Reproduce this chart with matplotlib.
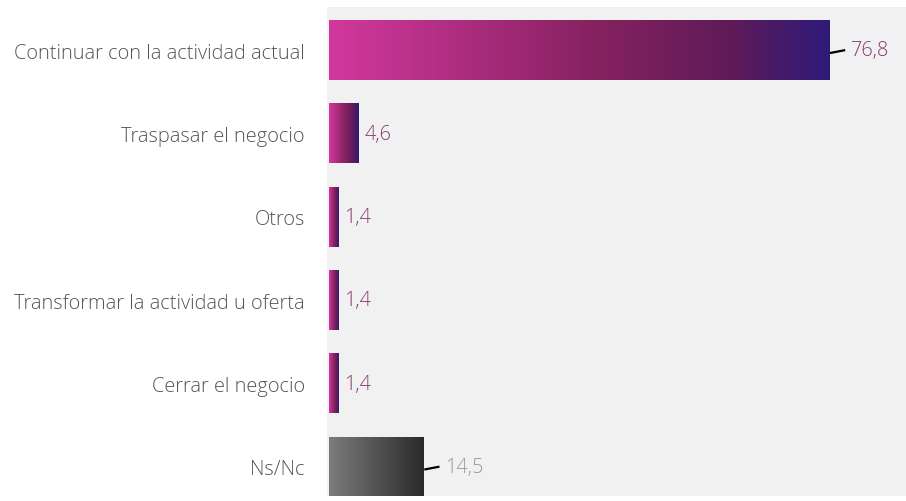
import numpy as np
import matplotlib
matplotlib.use("Agg")
import matplotlib.pyplot as plt
from matplotlib.colors import LinearSegmentedColormap

categories = ["Continuar con la actividad actual", "Traspasar el negocio", "Otros",
              "Transformar la actividad u oferta", "Cerrar el negocio", "Ns/Nc"]
values = [76.8, 4.6, 1.4, 1.4, 1.4, 14.5]
value_labels = ["76,8", "4,6", "1,4", "1,4", "1,4", "14,5"]

plt.rcParams['font.family'] = ['Open Sans', 'DejaVu Sans']

purple = LinearSegmentedColormap.from_list(
    "purple", [(0, "#d2389d"), (0.55, "#84215f"), (0.8, "#5f1b58"), (1, "#2f1a7a")])
grey = LinearSegmentedColormap.from_list("grey", ["#7c7c7c", "#2a2a2a"])

fig = plt.figure(figsize=(9.06, 5.02), dpi=100)
ax = fig.add_axes([327 / 906, 5 / 502, 579 / 906, 489 / 502])
ax.set_facecolor("#f1f1f1")

h = 0.71
grad = np.linspace(0, 1, 256).reshape(1, -1)
for i, (cat, v, lab) in enumerate(zip(categories, values, value_labels)):
    cmap = grey if cat == "Ns/Nc" else purple
    ax.imshow(grad, extent=[0, v, i + h / 2, i - h / 2], aspect="auto",
              cmap=cmap, interpolation="bilinear", zorder=2)
    txt_color = "#9a9a9a" if cat == "Ns/Nc" else "#8a3a74"
    if v > 10:
        # leader line for the long bars
        ax.plot([v + 0.3, v + 2.3], [i + 0.03, i], color="black", lw=1.6, zorder=3)
        ax.text(v + 3.3, i, lab, va="center", ha="left", fontsize=14.3,
                color=txt_color, fontweight="light")
    else:
        ax.text(v + 0.9, i, lab, va="center", ha="left", fontsize=14.3,
                color=txt_color, fontweight="light")

ax.set_xlim(-0.3, 88.6)
ax.set_ylim(5.35, -0.52)
ax.set_yticks(range(len(categories)))
ax.set_yticklabels(categories, fontsize=14.4, color="#555555", fontweight="light")
ax.tick_params(axis="y", length=0, pad=16)
ax.set_xticks([])
for s in ax.spines.values():
    s.set_visible(False)

fig.savefig("out.png", dpi=100)
